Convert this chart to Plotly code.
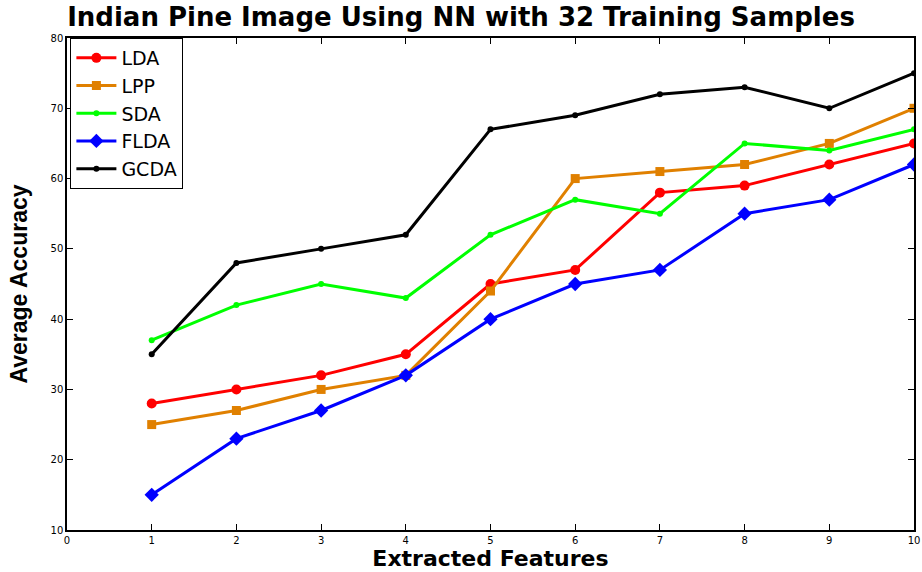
import plotly.graph_objects as go

features = [1, 2, 3, 4, 5, 6, 7, 8, 9, 10]
lda = [28, 30, 32, 35, 45, 47, 58, 59, 62, 65]
lpp = [25, 27, 30, 32, 44, 60, 61, 62, 65, 70]
sda = [37, 42, 45, 43, 52, 57, 55, 65, 64, 67]
flda = [15, 23, 27, 32, 40, 45, 47, 55, 57, 62]
gcda = [35, 48, 50, 52, 67, 69, 72, 73, 70, 75]

series = [
    ("LDA", lda, "#ff0000", "circle", 10),
    ("LPP", lpp, "#e08000", "square", 9),
    ("SDA", sda, "#00ff00", "circle", 6),
    ("FLDA", flda, "#0000ff", "diamond", 11),
    ("GCDA", gcda, "#000000", "circle", 6),
]

fig = go.Figure()
for name, vals, color, sym, size in series:
    fig.add_trace(go.Scatter(
        x=features, y=vals, name=name, mode="lines+markers",
        line=dict(color=color, width=3),
        marker=dict(symbol=sym, size=size, color=color),
    ))

axis_common = dict(
    showline=True, linecolor="black", linewidth=1.5, mirror="ticks",
    ticks="inside", ticklen=6, tickcolor="black", showgrid=False, zeroline=False,
    automargin=False,
    tickfont=dict(family="DejaVu Sans", size=10, color="black"),
)

fig.update_layout(
    width=922, height=572,
    margin=dict(l=67, r=8, t=38, b=42),
    paper_bgcolor="white", plot_bgcolor="white",
    title=dict(
        text="<b>Indian Pine Image Using NN with 32 Training Samples</b>",
        x=0.5, xanchor="center", y=0.971, yanchor="middle",
        font=dict(family="DejaVu Sans", size=26, color="black"),
    ),
    xaxis=dict(
        range=[0, 10], tickvals=list(range(0, 11)), ticklabelstandoff=0,
        title=dict(text="<b>Extracted Features</b>", standoff=6,
                   font=dict(family="DejaVu Sans", size=22, color="black")),
        **axis_common,
    ),
    yaxis=dict(
        range=[10, 80], tickvals=list(range(10, 81, 10)),
        title=dict(text="<b>Average Accuracy</b>", standoff=16,
                   font=dict(family="Liberation Sans, Arial", size=23, color="black")),
        **axis_common,
    ),
    legend=dict(
        x=0.004, y=1.0, xanchor="left", yanchor="top",
        bgcolor="white", bordercolor="black", borderwidth=1,
        font=dict(family="DejaVu Sans", size=19, color="black"),
        itemwidth=40, tracegroupgap=0,
    ),
)

fig.write_html("out.html")
